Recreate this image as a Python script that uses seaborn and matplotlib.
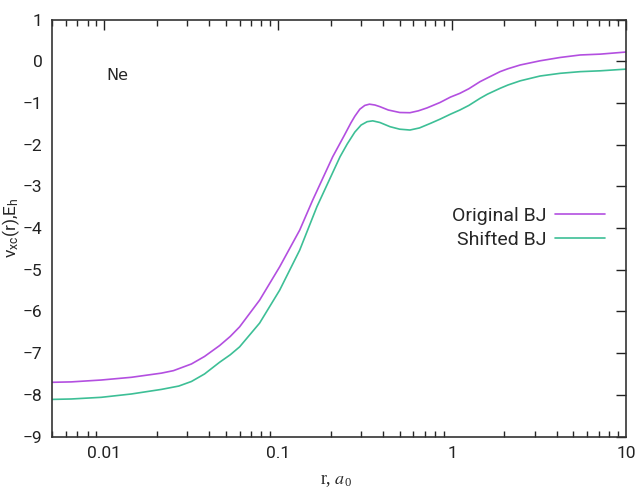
import numpy as np
import pandas as pd
import matplotlib
matplotlib.use('Agg')
import matplotlib.pyplot as plt
import seaborn as sns
from matplotlib.ticker import LogLocator, FixedLocator, NullFormatter
from matplotlib.lines import Line2D

# valores
r_orig = [0.005, 0.00645, 0.0096, 0.0143, 0.0213, 0.025, 0.0317, 0.0377, 0.046,
          0.053, 0.060, 0.0782, 0.102, 0.133, 0.158, 0.206, 0.240, 0.262, 0.276,
          0.295, 0.315, 0.335, 0.36, 0.385, 0.43, 0.501, 0.573, 0.64, 0.718,
          0.853, 0.98, 1.11, 1.25, 1.45, 1.6, 1.89, 2.1, 2.47, 3.21, 4.19,
          5.47, 7.13, 10.0]
v_orig = [-7.70, -7.69, -7.645, -7.58, -7.48, -7.42, -7.26, -7.08, -6.82,
          -6.60, -6.37, -5.73, -4.93, -4.05, -3.33, -2.29, -1.78, -1.48, -1.32,
          -1.15, -1.06, -1.03, -1.05, -1.09, -1.17, -1.23, -1.235, -1.19, -1.12,
          -0.99, -0.86, -0.77, -0.66, -0.49, -0.40, -0.25, -0.18, -0.09, 0.01,
          0.09, 0.15, 0.17, 0.22]

r_shift = [0.005, 0.00645, 0.0096, 0.0143, 0.0213, 0.0268, 0.0317, 0.0377,
           0.046, 0.053, 0.060, 0.0782, 0.102, 0.133, 0.167, 0.227, 0.25, 0.276,
           0.30, 0.325, 0.35, 0.385, 0.44, 0.50, 0.573, 0.65, 0.752, 0.853,
           0.98, 1.11, 1.25, 1.45, 1.6, 1.89, 2.1, 2.47, 3.21, 4.19, 5.47, 7.13,
           10.0]
v_shift = [-8.11, -8.10, -8.06, -7.98, -7.87, -7.79, -7.68, -7.50,
           -7.22, -7.04, -6.85, -6.28, -5.49, -4.53, -3.49, -2.29, -1.98, -1.70,
           -1.53, -1.45, -1.43, -1.47, -1.57, -1.63, -1.65, -1.60, -1.49, -1.39,
           -1.27, -1.17, -1.06, -0.89, -0.79, -0.65, -0.57, -0.47, -0.355, -0.29,
           -0.25, -0.23, -0.19]

labels = ['Original BJ', 'Shifted BJ']
colores = ['#b34fe0', '#3dbf96']

df = pd.concat([
    pd.DataFrame({'r': r_orig, 'v': v_orig, 'serie': labels[0]}),
    pd.DataFrame({'r': r_shift, 'v': v_shift, 'serie': labels[1]}),
])

sns.set_theme(style='white')
plt.rcParams['font.family'] = ['Roboto', 'DejaVu Sans']
plt.rcParams['mathtext.default'] = 'regular'
plt.rcParams['mathtext.fontset'] = 'stix'

fig = plt.figure(figsize=(6.36, 4.88), dpi=100)
ax = fig.add_axes([0.0818, 0.1055, 0.9022, 0.8545])

sns.lineplot(data=df, x='r', y='v', hue='serie', palette=colores, sort=False,
             linewidth=1.2, ax=ax, legend=False)

ax.set_xscale('log')
ax.set_xlim(0.005, 10)
ax.set_ylim(-9, 1)
ax.yaxis.set_major_locator(FixedLocator(np.arange(-9, 2, 1)))
ax.set_xticks([0.01, 0.1, 1, 10])
ax.set_xticklabels(['0.01', '0.1', '1', '10'])
ax.xaxis.set_minor_locator(LogLocator(base=10, subs=np.arange(2, 10), numticks=20))
ax.xaxis.set_minor_formatter(NullFormatter())

ax.tick_params(axis='both', which='major', direction='in', length=7, width=1,
               top=True, right=True, labelsize=12.5, colors='#222222', pad=7)
ax.tick_params(axis='x', which='minor', direction='in', length=4, width=1,
               top=True, bottom=True)
for s in ax.spines.values():
    s.set_color('#333333')
    s.set_linewidth(1.2)

ax.set_xlabel(r'r, $\mathit{a}_0$', family='Liberation Serif', fontsize=13)
ax.set_ylabel(r'v$_{xc}$(r),E$_h$', fontsize=12.5)
ax.xaxis.set_label_coords(0.495, -0.085)
ax.yaxis.set_label_coords(-0.052, 0.5)

ax.text(0.095, 0.865, 'Ne', transform=ax.transAxes, fontsize=11.5,
        family='DejaVu Sans', ha='left', va='center')

handles = [Line2D([], [], color=c, lw=1.2) for c in colores]
ax.legend(handles, labels, loc='center right', bbox_to_anchor=(0.995, 0.5),
          frameon=False, markerfirst=False, fontsize=14, handlelength=2.6,
          labelspacing=0.3, handletextpad=0.45)

fig.savefig('out.png', dpi=100)
